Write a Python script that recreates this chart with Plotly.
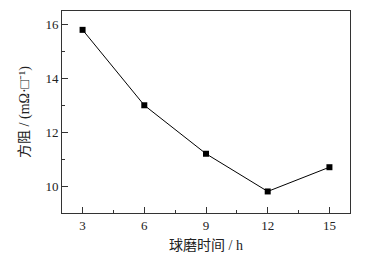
import plotly.graph_objects as go

hours = [3, 6, 9, 12, 15]
resistance = [15.8, 13.0, 11.2, 9.8, 10.7]
x_ticks = [3, 6, 9, 12, 15]
y_ticks = [10, 12, 14, 16]

font_family = "Liberation Serif, Noto Sans CJK SC"

fig = go.Figure()
fig.add_trace(go.Scatter(
    x=hours, y=resistance, mode="lines+markers",
    line=dict(color="black", width=1),
    marker=dict(symbol="square", size=6, color="black"),
    showlegend=False,
))

axis_common = dict(
    showline=True, linecolor="#333", linewidth=1, mirror=True,
    ticks="inside", ticklen=6, tickcolor="#333", tickwidth=1,
    showgrid=False, zeroline=False,
    tickfont=dict(family=font_family, size=13, color="#222"),
)

fig.update_xaxes(
    range=[2, 16], tickvals=x_ticks,
    minor=dict(ticks="inside", ticklen=3, tickcolor="#333", dtick=1.5, tick0=3, showgrid=False),
    title=dict(text="球磨时间 / h", font=dict(family=font_family, size=14, color="#222"), standoff=8),
    **axis_common,
)
fig.update_yaxes(
    range=[9, 16.5], tickvals=y_ticks,
    minor=dict(ticks="inside", ticklen=3, tickcolor="#333", dtick=1, tick0=9, showgrid=False),
    title=dict(text="方阻 / (mΩ·□⁻¹)", font=dict(family=font_family, size=14, color="#222"), standoff=12),
    **axis_common,
)

fig.update_layout(
    width=372, height=260,
    margin=dict(l=62, r=22, t=10, b=40),
    plot_bgcolor="white", paper_bgcolor="white",
)

fig.write_html("out.html")
